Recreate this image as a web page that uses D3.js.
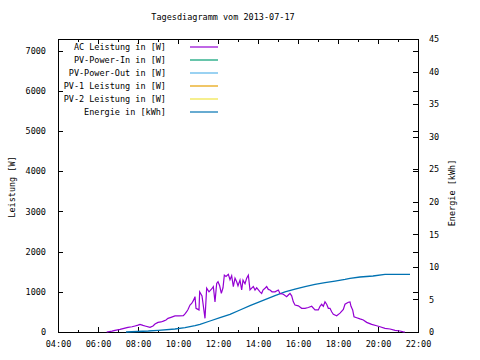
<!DOCTYPE html>
<html><head><meta charset="utf-8">
<script src="https://cdn.jsdelivr.net/npm/d3@7"></script>
<style>body{margin:0;background:#fff}svg{display:block}</style>
</head><body>
<svg id="c" width="480" height="360"></svg>
<script>
const chartTitle = "Tagesdiagramm vom 2013-07-17";
const leftAxisTitle = "Leistung [W]";
const rightAxisTitle = "Energie [kWh]";
const xTickLabels = ["04:00","06:00","08:00","10:00","12:00","14:00","16:00","18:00","20:00","22:00"];
const xMinorLabels = ["05:00","07:00","09:00","11:00","13:00","15:00","17:00","19:00","21:00"];
const powerTicks = [0,1000,2000,3000,4000,5000,6000,7000];
const energyTicks = [0,5,10,15,20,25,30,35,40,45];
const seriesNames = ["AC Leistung in [W]","PV-Power-In in [W]","PV-Power-Out in [W]","PV-1 Leistung in [W]","PV-2 Leistung in [W]","Energie in [kWh]"];
const seriesColors = ["#9400d3","#009e73","#56b4e9","#e69f00","#f0e442","#0072b2"];

const acTime = ["06:26","06:42","06:51","07:06","07:18","07:30","07:42","07:51","08:00","08:06","08:15","08:21","08:36","08:45","08:51","09:00","09:09","09:16","09:24","09:30","09:39","09:51","10:03","10:16","10:21","10:26","10:30","10:36","10:41","10:46","10:51","10:54","11:03","11:05","11:12","11:21","11:26","11:33","11:41","11:46","11:51","11:56","12:00","12:05","12:10","12:15","12:19","12:24","12:31","12:36","12:41","12:46","12:51","12:56","13:00","13:06","13:11","13:15","13:21","13:26","13:31","13:36","13:41","13:46","13:51","13:56","14:00","14:06","14:11","14:15","14:21","14:26","14:31","14:36","14:42","14:51","15:01","15:06","15:16","15:26","15:31","15:36","15:41","15:46","15:51","16:01","16:11","16:21","16:31","16:41","16:51","17:01","17:06","17:11","17:16","17:21","17:26","17:31","17:36","17:41","17:46","17:56","18:06","18:16","18:21","18:31","18:36","18:39","18:44","18:48","18:56","19:06","19:16","19:26","19:41","19:56","20:06","20:21","20:36","20:51","21:06","21:16","21:21"];
const acPower = [0,20,40,65,90,115,130,150,170,190,165,150,115,150,200,240,250,270,300,340,365,400,400,405,450,505,560,670,710,780,880,590,550,1000,900,340,1090,1000,1070,1130,750,1210,1250,1150,960,1100,1415,1380,1435,1300,1400,1130,1340,1250,1150,1290,1045,1290,1200,1340,1415,1045,1090,1130,1045,1100,1060,1000,960,1045,1090,1130,1060,1045,1000,1000,1045,960,940,880,920,960,900,750,670,650,590,590,610,640,550,550,640,690,640,750,690,590,590,505,440,405,470,560,690,740,750,640,550,380,355,325,300,240,190,155,130,90,75,40,25,5,0];

const energyTime = ["07:24","08:31","09:01","09:51","10:21","10:51","11:06","11:36","12:06","12:36","13:06","13:36","14:06","14:51","15:21","15:51","16:21","16:51","17:21","17:51","18:21","18:36","19:06","19:45","20:21","21:36"];
const energyKWh = [0,0.15,0.26,0.46,0.66,0.97,1.18,1.69,2.2,2.7,3.38,4.04,4.65,5.6,6.15,6.6,6.96,7.3,7.57,7.83,8.08,8.25,8.45,8.6,8.86,8.86];

const toMin = s => { const [h,m] = s.split(":").map(Number); return h*60+m; };
const FONT = "'DejaVu Sans Mono', monospace";
const FS = "8.5px";

const L = 58, R = 418, T = 39, B = 332;
const svg = d3.select("#c");
const x = d3.scaleLinear().domain([toMin(xTickLabels[0]), toMin(xTickLabels[xTickLabels.length-1])]).range([L, R]);
const y1 = d3.scaleLinear().domain([0, 7290]).range([B, T]);
const y2 = d3.scaleLinear().domain([0, 45]).range([B, T]);

function styleAxis(g, showText) {
  g.select(".domain").remove();
  g.selectAll("line").attr("stroke", "#000").attr("shape-rendering", "crispEdges");
  g.selectAll("text").attr("font-family", FONT).attr("font-size", FS).attr("fill", "#000");
  if (!showText) g.selectAll("text").remove();
}

// bottom axis major
svg.append("g").attr("transform", `translate(0,${B})`)
  .call(d3.axisBottom(x).tickValues(xTickLabels.map(toMin)).tickFormat((d,i)=>xTickLabels[i]).tickSize(-5).tickPadding(9))
  .call(g => styleAxis(g, true));
svg.append("g").attr("transform", `translate(0,${B})`)
  .call(d3.axisBottom(x).tickValues(xMinorLabels.map(toMin)).tickFormat("").tickSize(-2.5))
  .call(g => styleAxis(g, false));
// top mirror
svg.append("g").attr("transform", `translate(0,${T})`)
  .call(d3.axisTop(x).tickValues(xTickLabels.map(toMin)).tickFormat("").tickSize(-5))
  .call(g => styleAxis(g, false));
svg.append("g").attr("transform", `translate(0,${T})`)
  .call(d3.axisTop(x).tickValues(xMinorLabels.map(toMin)).tickFormat("").tickSize(-2.5))
  .call(g => styleAxis(g, false));
// left axis
svg.append("g").attr("transform", `translate(${L},0)`)
  .call(d3.axisLeft(y1).tickValues(powerTicks).tickFormat(d3.format("d")).tickSize(-5).tickPadding(12))
  .call(g => styleAxis(g, true));
// right mirror of left ticks
svg.append("g").attr("transform", `translate(${R},0)`)
  .call(d3.axisRight(y1).tickValues(powerTicks.slice(1)).tickFormat("").tickSize(-5))
  .call(g => styleAxis(g, false));
// right axis energy
svg.append("g").attr("transform", `translate(${R},0)`)
  .call(d3.axisRight(y2).tickValues(energyTicks).tickFormat(d3.format("d")).tickSize(-5).tickPadding(11))
  .call(g => styleAxis(g, true));

// border
svg.append("rect").attr("x", L).attr("y", T).attr("width", R-L).attr("height", B-T)
  .attr("fill", "none").attr("stroke", "#000").attr("shape-rendering", "crispEdges");

// title
svg.append("text").attr("x", 223).attr("y", 20).attr("text-anchor", "middle")
  .attr("font-family", FONT).attr("font-size", FS).text(chartTitle);
// axis titles
svg.append("text").attr("transform", "translate(15,187) rotate(-90)").attr("text-anchor", "middle")
  .attr("font-family", FONT).attr("font-size", FS).text(leftAxisTitle);
svg.append("text").attr("transform", "translate(455,193) rotate(-90)").attr("text-anchor", "middle")
  .attr("font-family", FONT).attr("font-size", FS).text(rightAxisTitle);

// legend
const lg = svg.append("g");
seriesNames.forEach((n, i) => {
  const yy = 47 + i * 13;
  lg.append("text").attr("x", 166).attr("y", yy + 3).attr("text-anchor", "end")
    .attr("font-family", FONT).attr("font-size", FS).text(n);
  lg.append("line").attr("x1", 190).attr("x2", 218).attr("y1", yy).attr("y2", yy)
    .attr("stroke", seriesColors[i]).attr("stroke-width", 1.2);
});

// data lines
const acData = acTime.map((t, i) => ({ t: toMin(t), v: acPower[i] }));
const enData = energyTime.map((t, i) => ({ t: toMin(t), v: energyKWh[i] }));

svg.append("path").datum(enData)
  .attr("d", d3.line().x(d => x(d.t)).y(d => y2(d.v)))
  .attr("fill", "none").attr("stroke", seriesColors[5]).attr("stroke-width", 1.3);
svg.append("path").datum(acData)
  .attr("d", d3.line().x(d => x(d.t)).y(d => y1(d.v)))
  .attr("fill", "none").attr("stroke", seriesColors[0]).attr("stroke-width", 1.2);
</script>
</body></html>
